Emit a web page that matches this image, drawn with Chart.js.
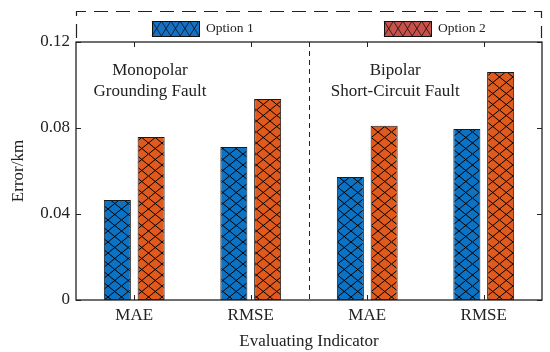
<!DOCTYPE html>
<html>
<head>
<meta charset="utf-8">
<script src="https://cdn.jsdelivr.net/npm/chart.js@4.4.1/dist/chart.umd.min.js"></script>
<style>
  html, body { margin: 0; padding: 0; background: #fff; }
  #wrap { width: 550px; height: 352px; }
</style>
</head>
<body>
<div id="wrap"><canvas id="errorChart"></canvas></div>
<script>
const categories = ['MAE', 'RMSE', 'MAE', 'RMSE'];
const option1 = [0.0465, 0.0712, 0.0572, 0.0795];
const option2 = [0.0758, 0.0935, 0.0810, 0.1060];
const seriesNames = ['Option 1', 'Option 2'];
const yTicks = [0, 0.04, 0.08, 0.12];
const groupNotes = [['Monopolar', 'Grounding Fault'], ['Bipolar', 'Short-Circuit Fault']];

const serif = "'Liberation Serif', 'Times New Roman', serif";
const barBlue = '#0b72c4';
const barOrange = '#df5a1c';
const legendBlue = '#1670c4';
const legendOrange = '#c8524a';

// diamond cross-hatch, 13.5 wide x 11 tall cells
function hatch(color) {
    const w = 13.5;
    const c = document.createElement('canvas');
    c.width = 27; c.height = 22;
    const g = c.getContext('2d');
    g.fillStyle = color;
    g.fillRect(0, 0, 27, 22);
    g.strokeStyle = '#000';
    g.lineWidth = 1;
    g.beginPath();
    for (let k = -2; k <= 2; k++) {
        g.moveTo(k * w, 0); g.lineTo(k * w + 27, 22);
        g.moveTo(k * w + 27, 0); g.lineTo(k * w, 22);
    }
    g.stroke();
    return g.createPattern(c, 'repeat');
}

const framePlugin = {
    id: 'frame',
    afterDatasetsDraw(chart) {
        const { ctx, chartArea: a, scales: { x, y } } = chart;
        ctx.save();
        ctx.strokeStyle = '#222';
        ctx.lineWidth = 1;
        // inward ticks
        ctx.beginPath();
        y.ticks.forEach(t => {
            const py = Math.round(y.getPixelForValue(t.value)) + 0.5;
            ctx.moveTo(a.left, py); ctx.lineTo(a.left + 5, py);
            ctx.moveTo(a.right, py); ctx.lineTo(a.right - 5, py);
        });
        categories.forEach((c, i) => {
            const px = Math.round(x.getPixelForValue(i)) + 0.5;
            ctx.moveTo(px, a.bottom); ctx.lineTo(px, a.bottom - 5);
            ctx.moveTo(px, a.top); ctx.lineTo(px, a.top + 5);
        });
        ctx.stroke();
        // box
        ctx.lineWidth = 1.3;
        ctx.strokeRect(a.left, a.top, a.right - a.left, a.bottom - a.top);
        // divider between the two fault types
        const mid = Math.round((x.getPixelForValue(1) + x.getPixelForValue(2)) / 2) + 0.5;
        ctx.lineWidth = 1;
        ctx.setLineDash([5, 4]);
        ctx.beginPath();
        ctx.moveTo(mid, a.top); ctx.lineTo(mid, a.bottom);
        ctx.stroke();
        ctx.setLineDash([]);
        // group notes
        ctx.fillStyle = '#222';
        ctx.font = '17px ' + serif;
        ctx.textAlign = 'center';
        ctx.textBaseline = 'middle';
        const noteX = [0.135, 2.24];
        groupNotes.forEach((lines, i) => {
            const px = x.getPixelForValue(noteX[i]);
            ctx.fillText(lines[0], px, y.getPixelForValue(0.1065));
            ctx.fillText(lines[1], px, y.getPixelForValue(0.097));
        });
        ctx.restore();
    }
};

const legendPlugin = {
    id: 'dashLegend',
    afterDraw(chart) {
        const { ctx, chartArea: a } = chart;
        ctx.save();
        ctx.strokeStyle = '#222';
        ctx.lineWidth = 1.2;
        ctx.setLineDash([14, 8]);
        ctx.beginPath();
        ctx.moveTo(a.left + 0.5, a.top - 4);
        ctx.lineTo(a.left + 0.5, 11.5);
        ctx.lineTo(a.right - 0.5, 11.5);
        ctx.lineTo(a.right - 0.5, a.top - 4);
        ctx.stroke();
        ctx.setLineDash([]);
        const items = [
            { x: a.left + 76, color: legendBlue, text: seriesNames[0] },
            { x: a.left + 308, color: legendOrange, text: seriesNames[1] }
        ];
        const w = 47, h = 15, top = 21;
        ctx.font = '13.5px ' + serif;
        ctx.textBaseline = 'middle';
        items.forEach(it => {
            ctx.fillStyle = it.color;
            ctx.fillRect(it.x, top, w, h);
            ctx.strokeStyle = '#111';
            ctx.lineWidth = 0.8;
            ctx.beginPath();
            const cw = w / 5;
            for (let k = 0; k < 5; k++) {
                ctx.moveTo(it.x + k * cw, top); ctx.lineTo(it.x + (k + 1) * cw, top + h);
                ctx.moveTo(it.x + (k + 1) * cw, top); ctx.lineTo(it.x + k * cw, top + h);
            }
            ctx.stroke();
            ctx.lineWidth = 1;
            ctx.strokeRect(it.x + 0.5, top + 0.5, w, h);
            ctx.fillStyle = '#222';
            ctx.fillText(it.text, it.x + w + 7, top + h / 2);
        });
        ctx.restore();
    }
};

const ctx = document.getElementById('errorChart');
new Chart(ctx, {
    type: 'bar',
    data: {
        labels: categories,
        datasets: [
            {
                label: seriesNames[0],
                data: option1,
                backgroundColor: hatch(barBlue),
                borderColor: '#1a1a1a',
                borderWidth: 1,
                borderSkipped: false
            },
            {
                label: seriesNames[1],
                data: option2,
                backgroundColor: hatch(barOrange),
                borderColor: '#1a1a1a',
                borderWidth: 1,
                borderSkipped: false
            }
        ]
    },
    options: {
        responsive: true,
        maintainAspectRatio: false,
        animation: false,
        categoryPercentage: 0.58,
        barPercentage: 0.8,
        layout: { padding: { top: 42, right: 8, left: 0, bottom: 0 } },
        plugins: {
            legend: { display: false },
            tooltip: { enabled: false }
        },
        scales: {
            x: {
                grid: { display: false, drawTicks: false },
                border: { display: false },
                ticks: {
                    color: '#222',
                    padding: 5,
                    font: { family: serif, size: 17 }
                },
                title: {
                    display: true,
                    text: 'Evaluating Indicator',
                    color: '#222',
                    padding: { top: 0, bottom: 0 },
                    font: { family: serif, size: 17 }
                },
                afterFit(s) { s.height = 52; }
            },
            y: {
                min: 0,
                max: 0.12,
                afterBuildTicks(s) { s.ticks = yTicks.map(v => ({ value: v })); },
                grid: { display: false, drawTicks: false },
                border: { display: false },
                ticks: {
                    color: '#222',
                    padding: 6,
                    font: { family: serif, size: 17 },
                    callback: v => v === 0 ? '0' : v.toFixed(2)
                },
                title: {
                    display: true,
                    text: 'Error/km',
                    color: '#222',
                    padding: { top: 8, bottom: 0 },
                    font: { family: serif, size: 17 }
                },
                afterFit(s) { s.width = 76; }
            }
        }
    },
    plugins: [framePlugin, legendPlugin]
});
</script>
</body>
</html>
